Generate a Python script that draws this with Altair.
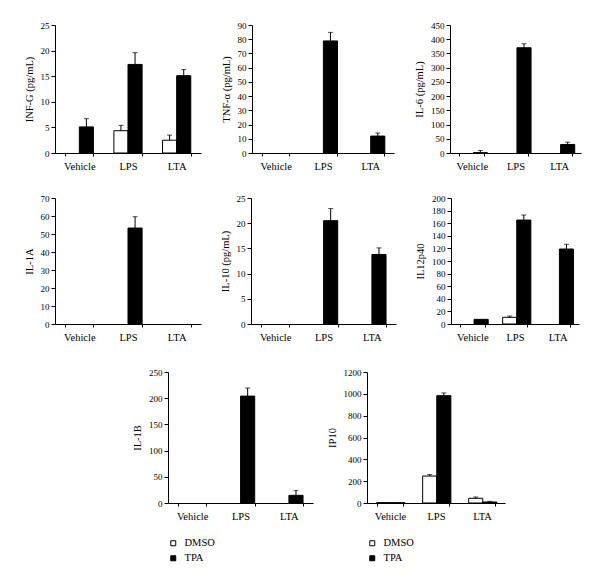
import altair as alt
import pandas as pd

categories = ["Vehicle", "LPS", "LTA"]
treatments = ["DMSO", "TPA"]

# INF-G
infg_dmso = [0, 4.35, 2.5]
infg_tpa = [5.1, 17.3, 15.1]
infg_dmso_err = [0, 1.05, 1.0]
infg_tpa_err = [1.6, 2.3, 1.2]
infg_ticks = [0, 5, 10, 15, 20, 25]

# TNF-alpha
tnf_dmso = [0, 0, 0]
tnf_tpa = [0, 78.8, 11.9]
tnf_dmso_err = [0, 0, 0]
tnf_tpa_err = [0, 6.0, 2.2]
tnf_ticks = [0, 10, 20, 30, 40, 50, 60, 70, 80, 90]

# IL-6
il6_dmso = [0, 0, 0]
il6_tpa = [1, 370, 30]
il6_dmso_err = [0, 0, 0]
il6_tpa_err = [8, 14, 8]
il6_ticks = [0, 50, 100, 150, 200, 250, 300, 350, 400, 450]

# IL-1A
il1a_dmso = [0, 0, 0]
il1a_tpa = [0, 53.3, 0]
il1a_dmso_err = [0, 0, 0]
il1a_tpa_err = [0, 6.3, 0]
il1a_ticks = [0, 10, 20, 30, 40, 50, 60, 70]

# IL-10
il10_dmso = [0, 0, 0]
il10_tpa = [0, 20.5, 13.8]
il10_dmso_err = [0, 0, 0]
il10_tpa_err = [0, 2.4, 1.3]
il10_ticks = [0, 5, 10, 15, 20, 25]

# IL12p40
il12_dmso = [0, 10.6, 0]
il12_tpa = [7.4, 165, 119]
il12_dmso_err = [0, 2.0, 0]
il12_tpa_err = [0, 8.0, 7.5]
il12_ticks = [0, 20, 40, 60, 80, 100, 120, 140, 160, 180, 200]

# IL-1B
il1b_dmso = [0, 0, 0]
il1b_tpa = [0, 204, 14.6]
il1b_dmso_err = [0, 0, 0]
il1b_tpa_err = [0, 15.5, 9]
il1b_ticks = [0, 50, 100, 150, 200, 250]

# IP10
ip10_dmso = [3, 247, 43]
ip10_tpa = [3, 983, 9]
ip10_dmso_err = [0, 13, 12]
ip10_tpa_err = [0, 25, 6]
ip10_ticks = [0, 200, 400, 600, 800, 1000, 1200]

FONT = "Liberation Serif"


def make_panel(title, dmso, tpa, dmso_err, tpa_err, ticks, width, height, legend=False):
    rows = []
    for i, c in enumerate(categories):
        rows.append({"category": c, "treatment": "DMSO", "value": dmso[i], "err": dmso_err[i],
                     "upper": dmso[i] + dmso_err[i]})
        rows.append({"category": c, "treatment": "TPA", "value": tpa[i], "err": tpa_err[i],
                     "upper": tpa[i] + tpa_err[i]})
    df = pd.DataFrame(rows)
    base = alt.Chart(df)
    x = alt.X("category:N", sort=categories,
              scale=alt.Scale(domain=categories, paddingInner=0.42, paddingOuter=0.21),
              axis=alt.Axis(title=None, labelAngle=0, tickBand="extent", tickSize=3,
                            labelPadding=5, labelFontSize=10.5))
    xo = alt.XOffset("treatment:N", sort=treatments,
                     scale=alt.Scale(domain=treatments, paddingInner=0, paddingOuter=0))
    yscale = alt.Scale(domain=[ticks[0], ticks[-1]], nice=False)
    yaxis = alt.Axis(title=title, values=ticks, format="d", tickSize=4, labelPadding=2,
                     titlePadding=6, labelFontSize=9)
    if legend:
        leg = alt.Legend(title=None, orient="none", legendX=0, legendY=166,
                         direction="vertical", symbolType="square", symbolSize=25,
                         symbolStrokeColor="black", symbolStrokeWidth=1,
                         labelFontSize=10.5, labelOffset=6, rowPadding=4, padding=0)
    else:
        leg = None
    bars = base.transform_filter("datum.value > 0").mark_bar(stroke="black", strokeWidth=1).encode(
        x=x, xOffset=xo,
        y=alt.Y("value:Q", scale=yscale, axis=yaxis),
        fill=alt.Fill("treatment:N", scale=alt.Scale(domain=treatments, range=["white", "black"]),
                      legend=leg),
    )
    rules = base.transform_filter("datum.err > 0").mark_rule(color="black", strokeWidth=1).encode(
        x=x, xOffset=xo,
        y=alt.Y("value:Q", scale=yscale, axis=yaxis),
        y2="upper:Q",
    )
    caps = base.transform_filter("datum.err > 0").mark_tick(color="black", thickness=1, size=5).encode(
        x=x, xOffset=xo,
        y=alt.Y("upper:Q", scale=yscale, axis=yaxis),
    )
    return alt.layer(bars, rules, caps).properties(width=width, height=height)


p1 = make_panel("INF-G (pg/mL)", infg_dmso, infg_tpa, infg_dmso_err, infg_tpa_err, infg_ticks, 146, 128)
p2 = make_panel("TNF-α (pg/mL)", tnf_dmso, tnf_tpa, tnf_dmso_err, tnf_tpa_err, tnf_ticks, 142, 128)
p3 = make_panel("IL-6 (pg/mL)", il6_dmso, il6_tpa, il6_dmso_err, il6_tpa_err, il6_ticks, 131, 128)
p4 = make_panel("IL-1A", il1a_dmso, il1a_tpa, il1a_dmso_err, il1a_tpa_err, il1a_ticks, 146, 126)
p5 = make_panel("IL-10 (pg/mL)", il10_dmso, il10_tpa, il10_dmso_err, il10_tpa_err, il10_ticks, 145, 126)
p6 = make_panel("IL12p40", il12_dmso, il12_tpa, il12_dmso_err, il12_tpa_err, il12_ticks, 128, 126)
p7 = make_panel("IL-1B", il1b_dmso, il1b_tpa, il1b_dmso_err, il1b_tpa_err, il1b_ticks, 145, 131, legend=True)
p8 = make_panel("IP10", ip10_dmso, ip10_tpa, ip10_dmso_err, ip10_tpa_err, ip10_ticks, 138, 131, legend=True)

spacer = alt.Chart(pd.DataFrame({"a": [0]})).mark_point(opacity=0).properties(width=63, height=131)

row1 = alt.hconcat(p1, p2, p3, spacing=20).resolve_scale(fill="independent")
row2 = alt.hconcat(p4, p5, p6, spacing=19).resolve_scale(fill="independent")
row3 = alt.hconcat(spacer, p7, p8, spacing=14).resolve_scale(fill="independent")
top = alt.vconcat(row1, row2, spacing=22, center=False).resolve_scale(fill="independent")

chart = alt.vconcat(top, row3, spacing=25, center=False).resolve_scale(
    fill="independent"
).properties(
    padding={"left": 16, "top": 13, "right": 5, "bottom": 5}
).configure(
    font=FONT, background="white"
).configure_view(
    stroke=None
).configure_axis(
    grid=False, domainColor="black", tickColor="black", labelColor="black",
    titleColor="black", titleFontWeight="normal", titleFontSize=10.5,
    labelFont=FONT, titleFont=FONT, domainWidth=1, tickWidth=1,
).configure_legend(
    labelFont=FONT, labelColor="black"
)

chart.save("out.html", embed_options={"renderer": "svg", "actions": False})
